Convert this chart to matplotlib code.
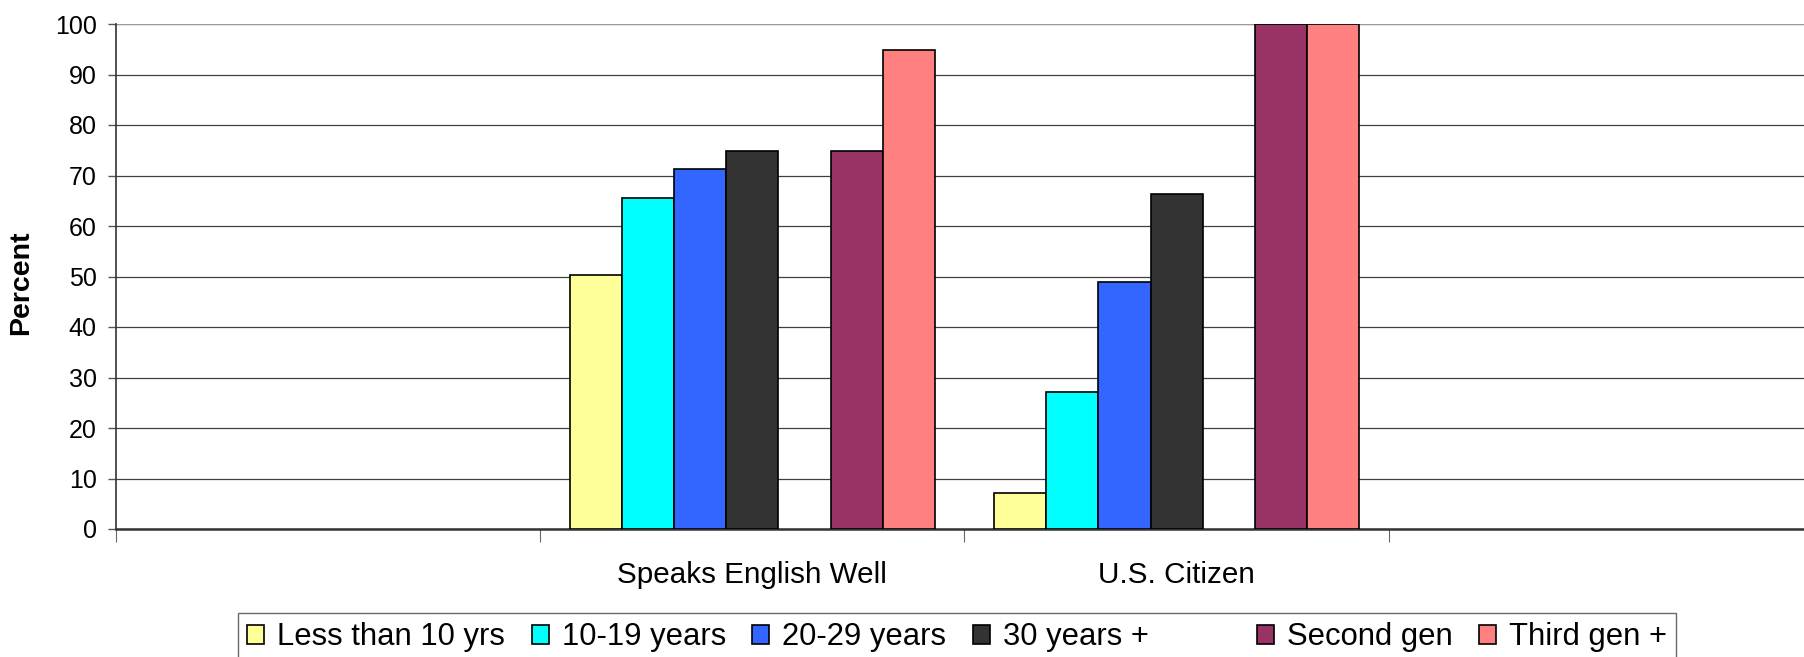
import matplotlib
matplotlib.use("Agg")
import matplotlib.pyplot as plt
from matplotlib.patches import Patch
import numpy as np

plt.rcParams['font.family'] = ['Liberation Sans', 'DejaVu Sans']

categories = ["", "Speaks English Well", "U.S. Citizen", ""]
series_names = ["Less than 10 yrs", "10-19 years", "20-29 years", "30 years +",
                "", "Second gen", "Third gen +"]
less_than_10 = [np.nan, 50.2, 7.1, np.nan]
years_10_19 = [np.nan, 65.6, 27.2, np.nan]
years_20_29 = [np.nan, 71.2, 49.0, np.nan]
years_30_plus = [np.nan, 74.8, 66.4, np.nan]
blank_series = [np.nan, np.nan, np.nan, np.nan]
second_gen = [np.nan, 74.8, 100.0, np.nan]
third_gen = [np.nan, 94.9, 100.0, np.nan]
y_ticks = [0, 10, 20, 30, 40, 50, 60, 70, 80, 90, 100]

all_series = [less_than_10, years_10_19, years_20_29, years_30_plus,
              blank_series, second_gen, third_gen]
colors = ["#FFFF99", "#00FFFF", "#3366FF", "#333333", "#FFFFFF", "#993366", "#FF8080"]

W, H = 1804, 657
fig = plt.figure(figsize=(W / 100, H / 100), dpi=100)
ax = fig.add_axes([116 / W, 1 - 529 / H, 1697 / W, (529 - 24) / H])

n = len(all_series)
bw = 0.123
x = np.arange(len(categories))
for i, (vals, c) in enumerate(zip(all_series, colors)):
    offs = (i - (n - 1) / 2) * bw
    ax.bar(x + offs, vals, width=bw, color=c, edgecolor="black", linewidth=1.2, zorder=3)

ax.set_xlim(-0.5, len(categories) - 0.5)
ax.set_ylim(0, 100)
ax.set_yticks(y_ticks)
ax.set_yticklabels([str(v) for v in y_ticks], fontsize=18)
ax.tick_params(axis='y', length=5.8, width=1, color="#555555", pad=8.2)
ax.yaxis.grid(True, color="#404040", linewidth=0.9, zorder=0)
ax.set_axisbelow(True)

ax.set_xticks(np.arange(len(categories) + 1) - 0.5)
ax.set_xticklabels([])
ax.tick_params(axis='x', which='major', length=9, width=0.8, color="#666666")
ax.set_xticks(x, minor=True)
ax.set_xticklabels(categories, minor=True, fontsize=21.3)
ax.tick_params(axis='x', which='minor', length=0, pad=23)

for s in ["top", "right"]:
    ax.spines[s].set_visible(False)
ax.spines["left"].set_color("#333333")
ax.spines["left"].set_linewidth(1.2)
ax.spines["bottom"].set_color("#333333")
ax.spines["bottom"].set_linewidth(1.8)
ax.axhline(100, color="#999999", linewidth=1.5, zorder=1)

fig.text(21 / W, 1 - 283 / H, "Percent", rotation=90, fontsize=20.5, fontweight="bold",
         ha="center", va="center")

handles = []
for name, c in zip(series_names, colors):
    if name:
        handles.append(Patch(facecolor=c, edgecolor="black", linewidth=1.2))
    else:
        handles.append(Patch(facecolor="none", edgecolor="none"))
labels = [nm if nm else "   " for nm in series_names]
leg = fig.legend(handles, labels, ncol=7, loc="upper left",
                 bbox_to_anchor=(238 / W, 1 - 613 / H), bbox_transform=fig.transFigure,
                 fontsize=22.3, frameon=True, fancybox=False, borderpad=0.3,
                 handlelength=0.55, handleheight=0.55, handletextpad=0.42,
                 columnspacing=0.85, borderaxespad=0)
leg.get_frame().set_edgecolor("#444444")
leg.get_frame().set_linewidth(1.0)

fig.savefig("out.png", dpi=100)
